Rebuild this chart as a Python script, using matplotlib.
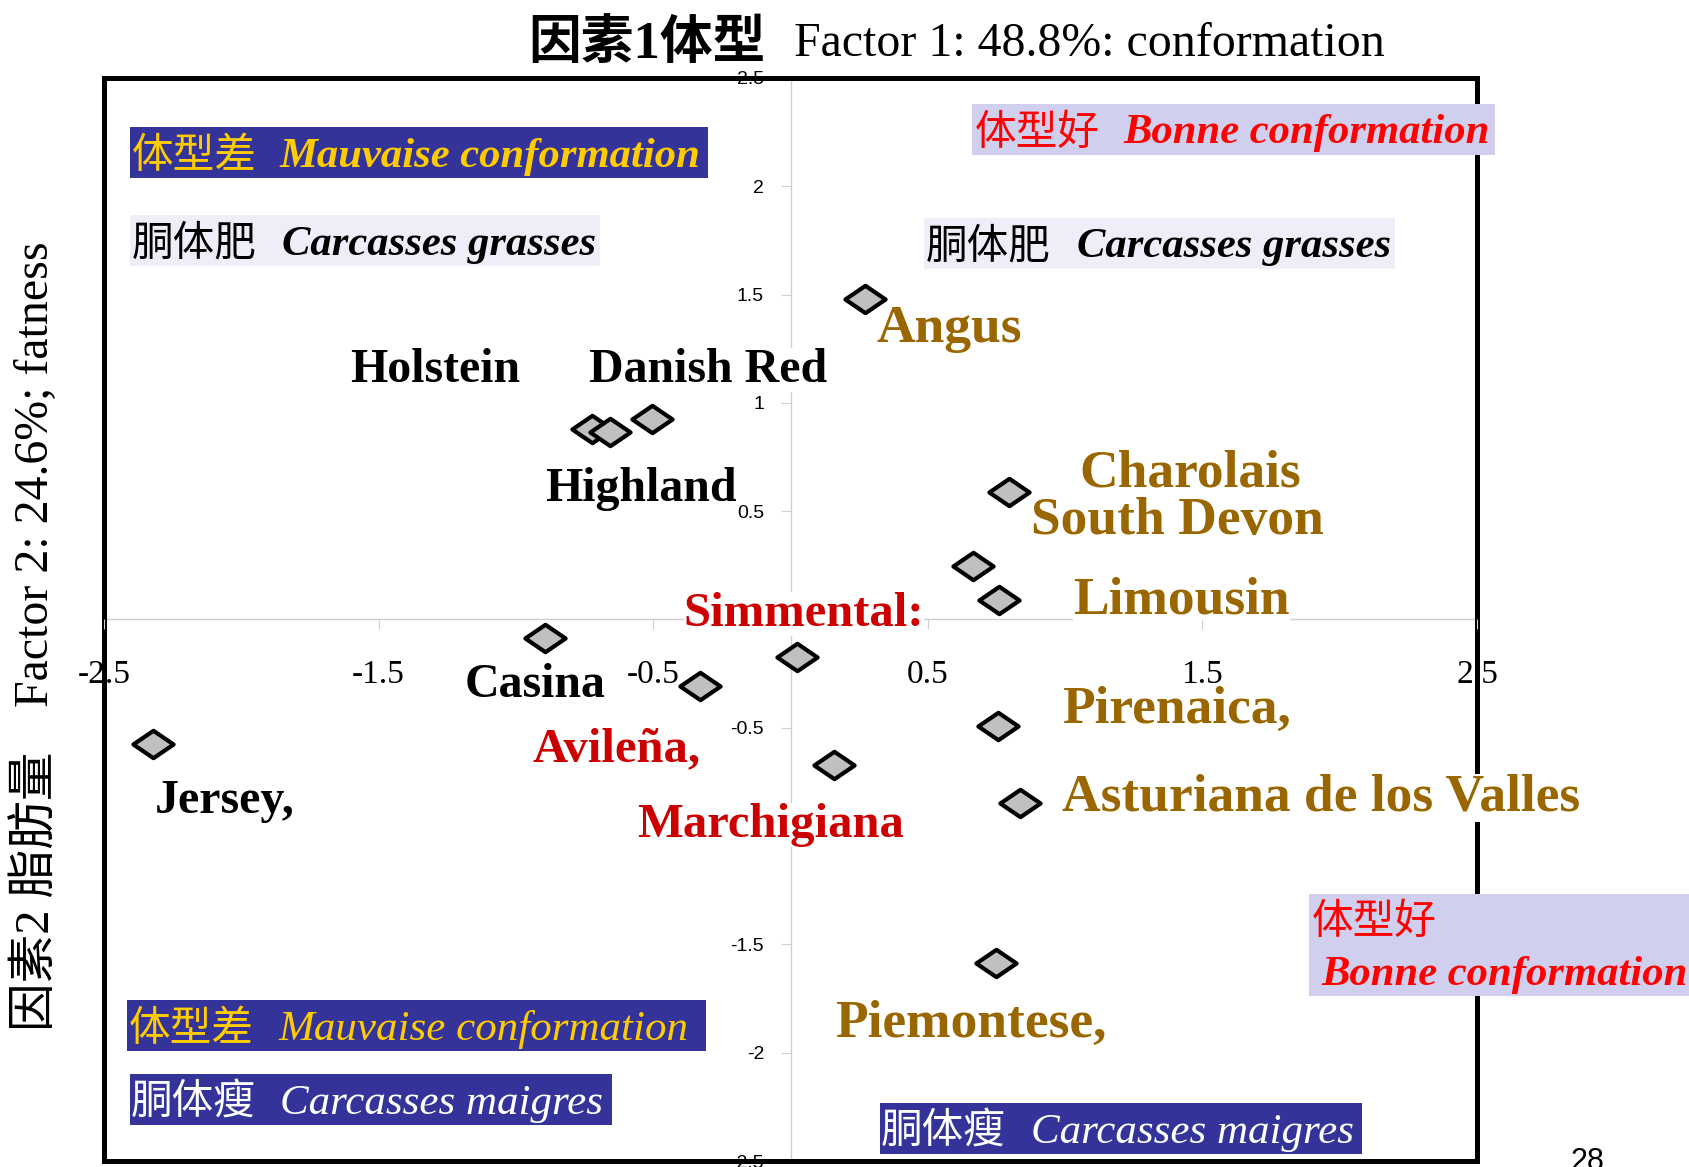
import matplotlib
matplotlib.use('Agg')
import matplotlib.pyplot as plt
from matplotlib.patches import Rectangle
from matplotlib.path import Path

W, H = 1689, 1167

# breed positions on factor 1 / factor 2
fac1 = [0.27, -0.724, -0.659, -0.506, 0.796, 0.663, 0.761, -0.895, -0.328,
        0.022, 0.157, 0.757, 0.835, 0.749, -2.32]
fac2 = [1.48, 0.88, 0.866, 0.926, 0.587, 0.249, 0.09, -0.085, -0.308,
        -0.174, -0.671, -0.493, -0.846, -1.587, -0.577]

# breed labels
names = ['Holstein', 'Danish Red', 'Highland', 'Angus', 'Charolais', 'South Devon',
         'Limousin', 'Simmental:', 'Casina', 'Avileña,', 'Marchigiana', 'Pirenaica,',
         'Asturiana de los Valles', 'Jersey,', 'Piemontese,']
name_x = [-1.602, -0.732, -0.892, 0.313, 1.053, 0.874, 1.030, -0.389, -1.186,
          -0.938, -0.558, 0.988, 0.990, -2.315, 0.164]
name_y = [1.152, 1.152, 0.603, 1.342, 0.672, 0.455, 0.086, 0.026, -0.302,
          -0.599, -0.948, -0.418, -0.824, -0.838, -1.868]
name_col = ['black', 'black', 'black', '#996600', '#996600', '#996600',
            '#996600', '#CC0000', 'black', '#CC0000', '#CC0000', '#996600',
            '#996600', 'black', '#996600']
size_by_col = {'black': 34.5, '#CC0000': 35, '#996600': 38.5}

xticks = [-2.5, -1.5, -0.5, 0.5, 1.5, 2.5]
yticks = [2.5, 2, 1.5, 1, 0.5, -0.5, -1, -1.5, -2, -2.5]
ytick_labels = ['2.5', '2', '1.5', '1', '0.5', '-0.5', '-1', '-1.5', '-2', '-2.5']

fig = plt.figure(figsize=(W / 100, H / 100), dpi=100)
ax = fig.add_axes([104 / W, 1 - 1161 / H, (1477 - 104) / W, (1161 - 78) / H])
ax.set_xlim(-2.5, 2.5)
ax.set_ylim(-2.5, 2.5)

for s in ['top', 'right']:
    ax.spines[s].set_visible(False)
ax.spines['left'].set_position(('data', 0))
ax.spines['bottom'].set_position(('data', 0))
for s in ['left', 'bottom']:
    ax.spines[s].set_color('#D0D0D0')
    ax.spines[s].set_linewidth(1)
    ax.spines[s].set_zorder(1)

ax.set_xticks(xticks, [str(t) for t in xticks])
ax.set_yticks(yticks, ytick_labels)
ax.tick_params(axis='x', direction='out', length=7, color='#D0D0D0', pad=22,
               labelsize=24, labelfontfamily='Liberation Serif')
ax.tick_params(axis='y', direction='out', length=7, color='#D0D0D0', pad=12,
               labelsize=14, labelfontfamily='Liberation Sans')
ax.xaxis.set_zorder(3.3)

# outer frame
ax.add_patch(Rectangle((0, 0), 1, 1, transform=ax.transAxes, fill=False,
                       lw=3.6, edgecolor='black', clip_on=False, zorder=3.0))

diamond = Path([(-1, 0), (0, 0.68), (1, 0), (0, -0.68), (-1, 0)],
               [Path.MOVETO, Path.LINETO, Path.LINETO, Path.LINETO, Path.CLOSEPOLY])
ax.plot(fac1, fac2, linestyle='none', marker=diamond, markersize=29,
        markerfacecolor='#C0C0C0', markeredgecolor='black', markeredgewidth=3,
        zorder=3.6, clip_on=False)

for n, x, y, c in zip(names, name_x, name_y, name_col):
    ax.text(x, y, n, color=c, fontsize=size_by_col[c], fontweight='bold',
            family='Liberation Serif', ha='left', va='center', zorder=3.2,
            bbox=dict(facecolor='white', edgecolor='none', pad=0))


def fx(px):
    return px / W


def fy(py):
    return 1 - py / H


# coloured notes around the chart
boxes = [
    (130, 127, 708, 178, '#333399', '#FFCC00', '体型差', 'Mauvaise conformation', 132, 280, 'bold'),
    (130, 215, 600, 266, '#EEEEF8', 'black', '胴体肥', 'Carcasses grasses', 132, 282, 'bold'),
    (972, 104, 1495, 155, '#D0D0EE', '#FF0000', '体型好', 'Bonne conformation', 975, 1123, 'bold'),
    (924, 218, 1395, 269, '#EEEEF8', 'black', '胴体肥', 'Carcasses grasses', 926, 1077, 'bold'),
    (127, 1000, 706, 1051, '#333399', '#FFCC00', '体型差', 'Mauvaise conformation', 129, 278, 'normal'),
    (130, 1074, 612, 1125, '#333399', 'white', '胴体瘦', 'Carcasses maigres', 131, 280, 'normal'),
    (880, 1103, 1362, 1154, '#333399', 'white', '胴体瘦', 'Carcasses maigres', 881, 1031, 'normal'),
]
for x0, y0, x1, y1, bg, tc, zh, la, zx, lx, wt in boxes:
    fig.add_artist(Rectangle((fx(x0), fy(y1)), (x1 - x0) / W, (y1 - y0) / H,
                             transform=fig.transFigure, facecolor=bg,
                             edgecolor='none', zorder=5))
    cy = fy((y0 + y1) / 2 + 4)
    fig.text(fx(zx), cy, zh, color=tc, fontsize=30, family='Noto Sans CJK SC',
             ha='left', va='center', zorder=6)
    fig.text(fx(lx), cy, la, color=tc, fontsize=30.7 if wt == 'bold' else 31,
             family='Liberation Serif', style='italic', fontweight=wt,
             ha='left', va='center', zorder=6)

# two-line note at lower right
fig.add_artist(Rectangle((fx(1309), fy(996)), (1689 - 1309) / W, (996 - 894) / H,
                         transform=fig.transFigure, facecolor='#D0D0EE',
                         edgecolor='none', zorder=5))
fig.text(fx(1312), fy(922), '体型好', color='#FF0000', fontsize=30,
         family='Noto Sans CJK SC', ha='left', va='center', zorder=6)
fig.text(fx(1321), fy(975), 'Bonne conformation', color='#FF0000', fontsize=30.7,
         family='Liberation Serif', style='italic', fontweight='bold',
         ha='left', va='center', zorder=6)

# title and axis title
fig.text(fx(528), fy(44), '因素1体型', fontsize=38, fontweight='bold',
         family=['Liberation Serif', 'Noto Sans CJK SC'], ha='left', va='center')
fig.text(fx(794), fy(44), 'Factor 1: 48.8%: conformation', fontsize=34.5,
         family='Liberation Serif', ha='left', va='center')
fig.text(fx(36), fy(474), 'Factor 2: 24.6%; fatness', fontsize=34.5, rotation=90,
         family='Liberation Serif', ha='center', va='center')
fig.text(fx(36), fy(891), '因素2 脂肪量', fontsize=35, rotation=90,
         family=['Liberation Serif', 'Noto Sans CJK SC'], ha='center', va='center')

fig.text(fx(1587), fy(1147), '28', fontsize=22, family='Liberation Sans',
         ha='center', va='top')

fig.savefig('out.png', dpi=100)
